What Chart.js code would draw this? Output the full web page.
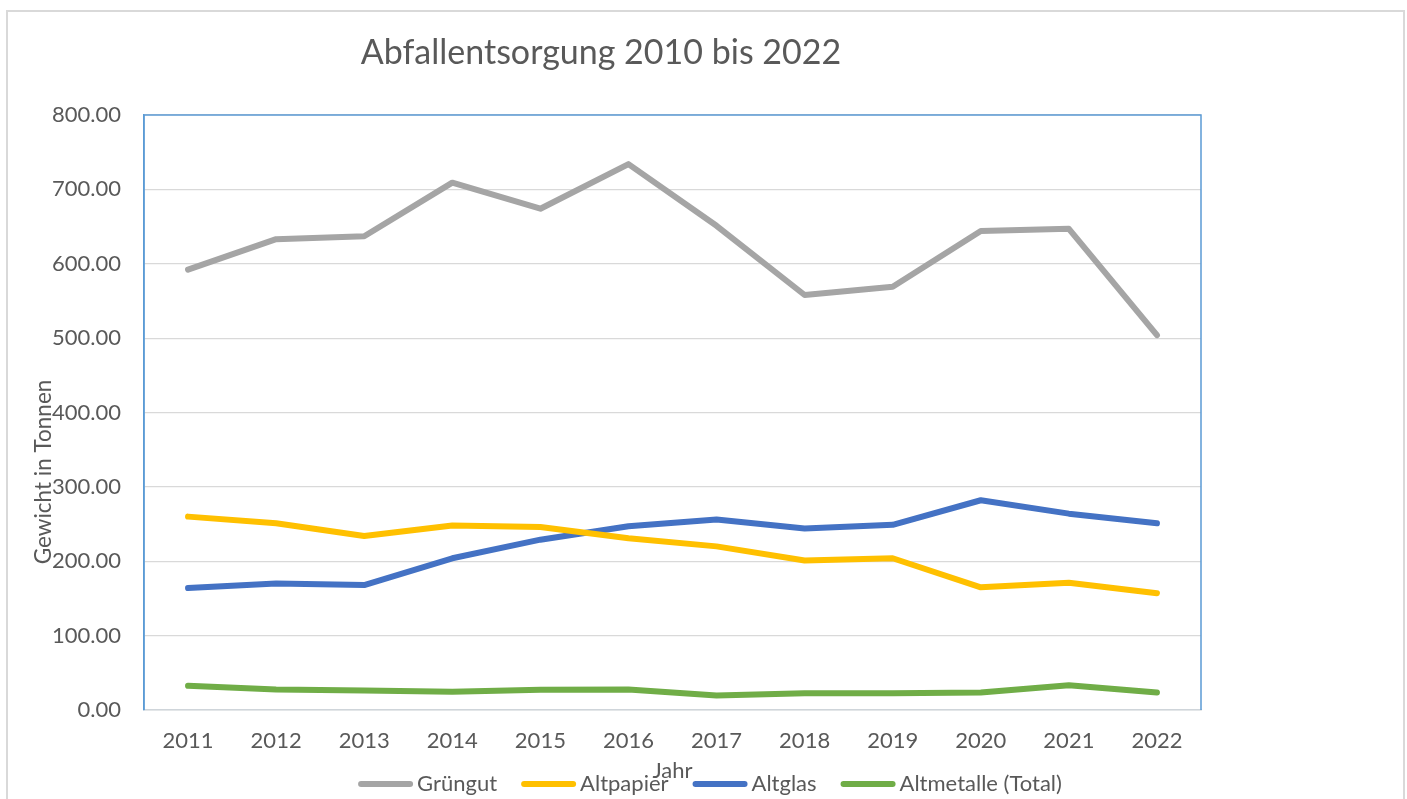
<!DOCTYPE html>
<html><head><meta charset="utf-8">
<script src="https://cdn.jsdelivr.net/npm/chart.js@4.4.1/dist/chart.umd.min.js"></script>
<style>html,body{margin:0;padding:0;background:#fff;overflow:hidden}#wrap{width:1407px;height:799px;position:relative}</style>
</head><body><div id="wrap"><canvas id="c" width="1407" height="799"></canvas></div>
<script>
const categories = ['2011','2012','2013','2014','2015','2016','2017','2018','2019','2020','2021','2022'];
const gruengut   = [592, 633, 637, 709, 674, 734, 651, 558, 569, 644, 647, 504];
const altpapier  = [260, 251, 234, 248, 246, 231, 220, 201, 204, 165, 171, 157];
const altglas    = [164, 170, 168, 204, 229, 247, 256, 244, 249, 282, 264, 251];
const altmetalle = [32.6, 27.6, 26.3, 24.5, 27.2, 27.6, 19.5, 22.6, 22.6, 23.6, 33.4, 23.6];
const seriesNames = ['Grüngut', 'Altpapier', 'Altglas', 'Altmetalle (Total)'];
const seriesColors = ['#A5A5A5', '#FFC000', '#4472C4', '#70AD47'];
const yMin = 0, yMax = 800, yStep = 100;
const titleText = 'Abfallentsorgung 2010 bis 2022';
const yTitle = 'Gewicht in Tonnen';
const xTitle = 'Jahr';

const FONT = 'Lato, "Open Sans", sans-serif';
const TXT = '#595959';

const decor = {
  id: 'decor',
  beforeDraw(chart) {
    const ctx = chart.ctx;
    ctx.save();
    ctx.fillStyle = '#fff';
    ctx.fillRect(0, 0, chart.width, chart.height);
    ctx.strokeStyle = '#d9d9d9';
    ctx.lineWidth = 2;
    ctx.strokeRect(7, 11, 1397, 800);
    ctx.restore();
  },
  afterDraw(chart) {
    const ctx = chart.ctx;
    const a = chart.chartArea;
    ctx.save();
    ctx.strokeStyle = '#5B9BD5';
    ctx.lineWidth = 1.5;
    ctx.beginPath();
    ctx.moveTo(a.left, a.bottom);
    ctx.lineTo(a.left, a.top);
    ctx.lineTo(a.right, a.top);
    ctx.lineTo(a.right, a.bottom);
    ctx.stroke();
    ctx.fillStyle = TXT;
    ctx.font = '34px ' + FONT;
    ctx.textAlign = 'center';
    ctx.textBaseline = 'middle';
    ctx.fillText(titleText, 601, 53);
    ctx.font = '22.5px ' + FONT;
    ctx.save();
    ctx.translate(44, 472);
    ctx.rotate(-Math.PI / 2);
    ctx.fillText(yTitle, 0, 0);
    ctx.restore();
    ctx.font = '22px ' + FONT;
    ctx.fillText(xTitle, (a.left + a.right) / 2, 771);
    const boxW = 55, gapT = 4, gapI = 24;
    ctx.font = '22px ' + FONT;
    let total = 0;
    const widths = seriesNames.map(n => ctx.measureText(n).width);
    widths.forEach((w, i) => { total += boxW + gapT + w + (i < widths.length - 1 ? gapI : 0); });
    let x = 710 - total / 2;
    const ly = 784;
    ctx.textAlign = 'left';
    seriesNames.forEach((n, i) => {
      ctx.strokeStyle = seriesColors[i];
      ctx.lineWidth = 6;
      ctx.lineCap = 'round';
      ctx.beginPath();
      ctx.moveTo(x + 3, ly);
      ctx.lineTo(x + boxW - 3, ly);
      ctx.stroke();
      ctx.fillStyle = TXT;
      ctx.fillText(n, x + boxW + gapT, ly);
      x += boxW + gapT + widths[i] + gapI;
    });
    ctx.restore();
  }
};

const mk = (label, data, color) => ({
  label, data, borderColor: color, backgroundColor: color,
  borderWidth: 6, pointRadius: 0, pointHoverRadius: 0, tension: 0,
  borderCapStyle: 'round', borderJoinStyle: 'round', fill: false
});

new Chart(document.getElementById('c'), {
  type: 'line',
  data: {
    labels: categories,
    datasets: [
      mk(seriesNames[0], gruengut, seriesColors[0]),
      mk(seriesNames[1], altpapier, seriesColors[1]),
      mk(seriesNames[2], altglas, seriesColors[2]),
      mk(seriesNames[3], altmetalle, seriesColors[3])
    ]
  },
  options: {
    responsive: false,
    animation: false,
    devicePixelRatio: 1,
    layout: { padding: { left: 0, right: 206, top: 115, bottom: 0 } },
    plugins: { legend: { display: false }, title: { display: false }, tooltip: { enabled: false } },
    scales: {
      x: {
        offset: true,
        grid: { display: false, drawTicks: false },
        border: { display: true, color: '#cfd5da', width: 1.5 },
        ticks: { color: TXT, font: { family: FONT, size: 22 }, padding: 18, maxRotation: 0 },
        afterFit(s) { s.height = 89; }
      },
      y: {
        min: yMin, max: yMax,
        grid: { color: '#d9d9d9', lineWidth: 1.2, drawTicks: false },
        border: { display: true, color: '#5B9BD5', width: 1.5 },
        ticks: { stepSize: yStep, color: TXT, font: { family: FONT, size: 22 }, padding: 23,
                 callback: v => Number(v).toFixed(2) },
        afterFit(s) { s.width = 144; }
      }
    }
  },
  plugins: [decor]
});
</script>
</body></html>
